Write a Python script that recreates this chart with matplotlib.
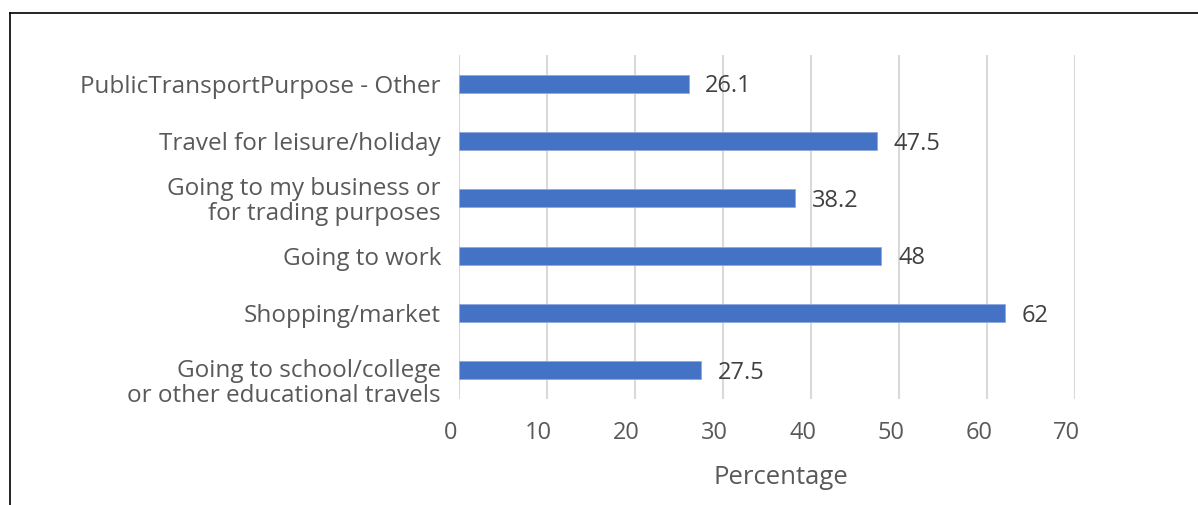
import matplotlib
matplotlib.use('Agg')
import matplotlib.pyplot as plt
from matplotlib.lines import Line2D
from matplotlib.transforms import ScaledTranslation

# Trip purposes (bottom to top) and share of respondents in percent
purposes = [
    'Going to school/college\nor other educational travels',
    'Shopping/market',
    'Going to work',
    'Going to my business or\nfor trading purposes',
    'Travel for leisure/holiday',
    'PublicTransportPurpose - Other',
]
percentages = [27.5, 62, 48, 38.2, 47.5, 26.1]
value_labels = ['27.5', '62', '48', '38.2', '47.5', '26.1']
x_ticks = [0, 10, 20, 30, 40, 50, 60, 70]

plt.rcParams['font.family'] = ['Open Sans', 'DejaVu Sans']

fig = plt.figure(figsize=(11.98, 5.05), dpi=100)
ax = fig.add_axes([459 / 1198, 1 - 399 / 505, 616 / 1198, 344 / 505])

pos = list(range(len(purposes)))
ax.barh(pos, percentages, height=0.31, color='#4472C4', edgecolor='#8FAADC', linewidth=0.6, zorder=3)

for y, v, lab in zip(pos, percentages, value_labels):
    ax.annotate(lab, (v, y), xytext=(12, -2), textcoords='offset points',
                ha='left', va='center', fontsize=17, color='#404040')

ax.set_xlim(0, 70)
ax.set_ylim(-0.5, len(purposes) - 0.5)
ax.set_xticks(x_ticks)
ax.set_yticks(pos)
ax.set_yticklabels(purposes, linespacing=1.05)
ax.tick_params(axis='x', length=0, labelsize=17, labelcolor='#595959', pad=16)
ax.tick_params(axis='y', length=0, labelsize=17.5, labelcolor='#595959', pad=13)
shift = ScaledTranslation(-6 / 72, 0, fig.dpi_scale_trans)
for t in ax.get_xticklabels():
    t.set_transform(t.get_transform() + shift)
# the lowest two-line label sits a little below its bar
low = ax.get_yticklabels()[0]
low.set_transform(low.get_transform() + ScaledTranslation(0, -7 / 72, fig.dpi_scale_trans))

ax.grid(axis='x', color='#D9D9D9', linewidth=1.5, zorder=0)
for s in ax.spines.values():
    s.set_visible(False)

fig.text(781 / 1198, 1 - 477 / 505, 'Percentage', ha='center', va='center',
         fontsize=18.5, color='#595959')

# frame around the chart area
fig.add_artist(Line2D([10 / 1198, 1], [1 - 13 / 505] * 2, color='black', linewidth=1.2))
fig.add_artist(Line2D([10 / 1198] * 2, [0, 1 - 13 / 505], color='black', linewidth=1.2))

fig.savefig('out.png', dpi=100)
